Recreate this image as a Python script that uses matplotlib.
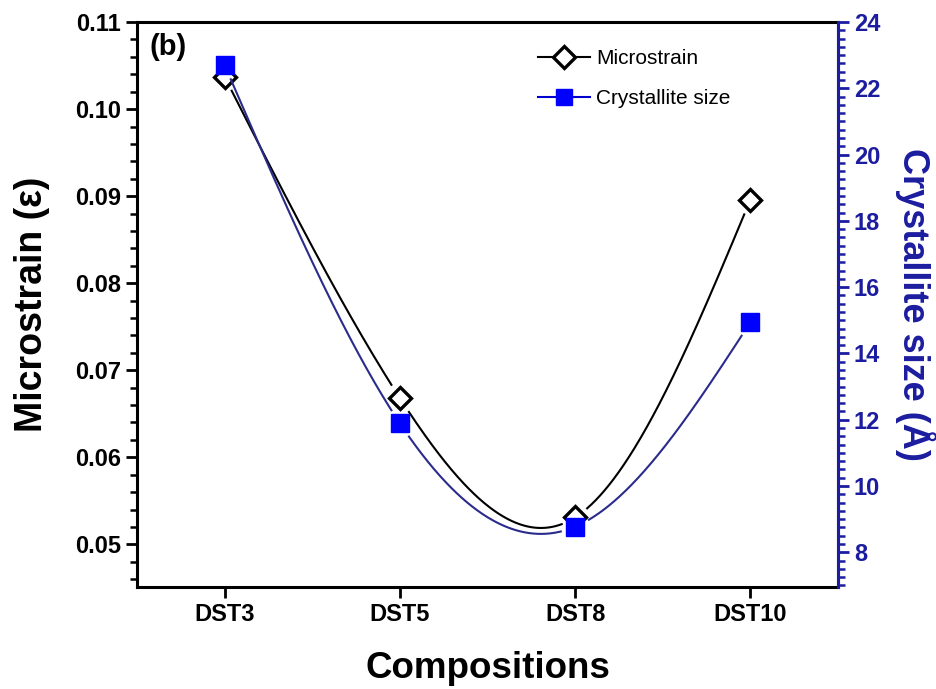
import numpy as np
import matplotlib.pyplot as plt
from matplotlib.lines import Line2D
from matplotlib.ticker import MultipleLocator

plt.rcParams['font.family'] = ['Liberation Sans', 'DejaVu Sans']

compositions = ['DST3', 'DST5', 'DST8', 'DST10']
microstrain = [0.1037, 0.0668, 0.0531, 0.0896]
crystallite_size = [22.70, 11.89, 8.77, 14.94]

blue_text = '#1c1ca0'
blue_line = '#2b2b8c'


def natural_spline(x, y, xs):
    x = np.asarray(x, float)
    y = np.asarray(y, float)
    n = len(x)
    h = np.diff(x)
    A = np.zeros((n, n))
    r = np.zeros(n)
    A[0, 0] = A[-1, -1] = 1
    for i in range(1, n - 1):
        A[i, i - 1] = h[i - 1]
        A[i, i] = 2 * (h[i - 1] + h[i])
        A[i, i + 1] = h[i]
        r[i] = 6 * ((y[i + 1] - y[i]) / h[i] - (y[i] - y[i - 1]) / h[i - 1])
    M = np.linalg.solve(A, r)
    i = np.clip(np.searchsorted(x, xs) - 1, 0, n - 2)
    hi = h[i]
    a = x[i + 1] - xs
    b = xs - x[i]
    return (M[i] * a**3 / (6 * hi) + M[i + 1] * b**3 / (6 * hi)
            + (y[i] / hi - M[i] * hi / 6) * a + (y[i + 1] / hi - M[i + 1] * hi / 6) * b)


def gapped(ax, x, y, xs, ys, radius=15):
    # break the curve near each marker, like the original plot does
    pts = ax.transData.transform(np.column_stack([xs, ys]))
    marks = ax.transData.transform(np.column_stack([x, y]))
    ys = ys.copy()
    for m in marks:
        d = np.hypot(pts[:, 0] - m[0], pts[:, 1] - m[1])
        ys[d < radius] = np.nan
    return ys


fig = plt.figure(figsize=(9.36, 6.89), dpi=100)
ax = fig.add_axes([0.1464, 0.148, 0.7489, 0.820])
ax2 = ax.twinx()

xpos = np.arange(len(compositions))
xs = np.linspace(0, len(compositions) - 1, 600)

ax.set_xlim(-0.5, 3.5)
ax.set_ylim(0.0451, 0.11)
ax2.set_ylim(6.95, 24)

ms_curve = natural_spline(xpos, microstrain, xs)
cs_curve = natural_spline(xpos, crystallite_size, xs)

ax.plot(xs, gapped(ax, xpos, microstrain, xs, ms_curve), color='black', lw=1.5)
ax.plot(xpos, microstrain, linestyle='none', marker='D', ms=11, mfc='white',
        mec='black', mew=2.4, zorder=5)

ax2.plot(xs, gapped(ax2, xpos, crystallite_size, xs, cs_curve), color=blue_line, lw=1.5)
ax2.plot(xpos, crystallite_size, linestyle='none', marker='s', ms=12.5,
         mfc='#0000ff', mec='#0000ff', zorder=5)

# axes styling
for sp in ax.spines.values():
    sp.set_linewidth(2.2)
ax2.spines['right'].set_linewidth(2.2)
ax2.spines['right'].set_color(blue_text)
for sp in ['left', 'top', 'bottom']:
    ax2.spines[sp].set_visible(False)

ax.set_xticks(xpos)
ax.set_xticklabels(compositions)
ax.yaxis.set_major_locator(MultipleLocator(0.01))
ax.yaxis.set_minor_locator(MultipleLocator(0.002))
ax.yaxis.set_major_formatter(plt.FormatStrFormatter('%.2f'))
ax.tick_params(axis='both', which='major', direction='out', length=8, width=2,
               labelsize=17)
ax.tick_params(axis='y', which='minor', direction='out', length=5, width=1.8)
for lab in ax.get_xticklabels() + ax.get_yticklabels():
    lab.set_fontweight('bold')

ax2.yaxis.set_major_locator(MultipleLocator(2))
ax2.yaxis.set_minor_locator(MultipleLocator(0.25))
ax2.tick_params(axis='y', which='major', direction='out', length=8, width=2,
                labelsize=17, colors=blue_text)
ax2.tick_params(axis='y', which='minor', direction='out', length=5, width=1.8,
                colors=blue_text)
for lab in ax2.get_yticklabels():
    lab.set_fontweight('bold')

ax.set_xlabel('Compositions', fontsize=26.5, fontweight='bold', labelpad=18)
ax.set_ylabel('Microstrain (ε)', fontsize=27, fontweight='bold', labelpad=18)
ax2.set_ylabel('Crystallite size (Å)', fontsize=26, fontweight='bold',
               color=blue_text, rotation=270, labelpad=40)

ax.text(0.018, 0.98, '(b)', transform=ax.transAxes, fontsize=21,
        fontweight='bold', va='top', ha='left')

handles = [
    Line2D([], [], color='black', lw=1.5, marker='D', ms=11, mfc='white',
           mec='black', mew=2.4),
    Line2D([], [], color='#0000cc', lw=1.5, marker='s', ms=12, mfc='#0000ff',
           mec='#0000ff'),
]
ax.legend(handles, ['Microstrain', 'Crystallite size'], loc='upper left',
          bbox_to_anchor=(0.572, 0.952), frameon=False, fontsize=15,
          handlelength=2.5, handletextpad=0.3, labelspacing=1.0,
          borderpad=0, borderaxespad=0)

fig.savefig('out.png', dpi=100)
